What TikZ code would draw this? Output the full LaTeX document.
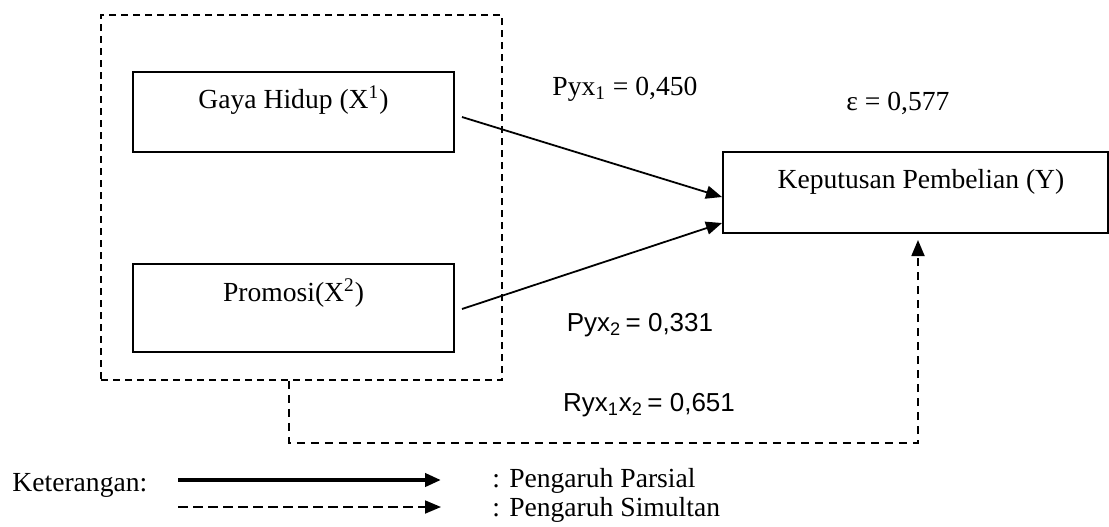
\documentclass[tikz,border=0pt]{standalone}
\usepackage{fontspec}
\setmainfont{Liberation Serif}
\newfontfamily\arialfont{Liberation Sans}
\usetikzlibrary{arrows.meta}
\begin{document}
\begin{tikzpicture}[x=0.5pt,y=-0.5pt,
  box/.style={draw,line width=1pt,inner sep=0pt},
  grpbox/.style={draw,line width=0.9pt,dash pattern=on 3.5pt off 2.5pt,inner sep=0pt},
  serif/.style={font=\fontsize{13.8}{16}\selectfont,inner sep=0pt},
  sans/.style={font=\arialfont\fontsize{13}{15}\selectfont,inner sep=0pt},
  tip/.style={-{Triangle[length=8pt,width=6.5pt]}},
  conn/.style={tip,line width=0.9pt},
  sim/.style={tip,line width=0.9pt,dash pattern=on 4pt off 3pt}
]
\useasboundingbox (0,0) rectangle (1109,526);
% group box
\node[grpbox,minimum width=200.5pt,minimum height=182.5pt] (grp) at (301.5,197.5) {};
% boxes
\node[box,minimum width=160.5pt,minimum height=40pt] (gaya) at (293.5,112) {};
\node[serif] (gayat) at (293.5,100) {Gaya Hidup (X\textsuperscript{1})};
\node[box,minimum width=160.5pt,minimum height=44pt] (promo) at (293.5,308) {};
\node[serif] (promot) at (293.5,293) {Promosi(X\textsuperscript{2})};
\node[box,minimum width=192.5pt,minimum height=40.5pt] (yb) at (915.5,192.5) {};
\node[serif] (ybt) at (921,182) {Keputusan Pembelian (Y)};
% labels
\node[serif] (p1) at (625,89) {Pyx\textsubscript{1} = 0,450};
\node[serif] (eps) at (898,103) {ε = 0,577};
\node[sans] (p2) at (640,325) {Pyx\textsubscript{2}\,= 0,331};
\node[sans] (r12) at (649,405) {Ryx\textsubscript{1}x\textsubscript{2}\,= 0,651};
% connectors
\coordinate (a1s) at (462,117);
\coordinate (a2s) at (462,309);
\draw[conn] (a1s) -- ([yshift=-2.25pt]yb.west);
\draw[conn] (a2s) -- ([yshift=-15.25pt]yb.west);
\coordinate (c1) at ([xshift=-6.25pt]grp.south);
\coordinate (c2) at (289,443);
\coordinate (c3) at (918,443);
\draw[sim,shorten >=3pt] (c1) -- (c2) -- (c3) -- ([xshift=1.25pt]yb.south);
% legend
\node[serif,anchor=west] (ket) at (12,485) {Keterangan:};
\coordinate (l1s) at (178,480);
\coordinate (l1e) at (441,480);
\coordinate (l2s) at (178,507);
\coordinate (l2e) at (441,507);
\draw[tip,line width=2pt] (l1s) -- (l1e);
\draw[sim,dash pattern=on 5pt off 2.5pt] (l2s) -- (l2e);
\node[serif,anchor=west] (lp) at (492,481) {: Pengaruh Parsial};
\node[serif,anchor=west] (ls) at (492,510) {: Pengaruh Simultan};
\end{tikzpicture}
\end{document}
